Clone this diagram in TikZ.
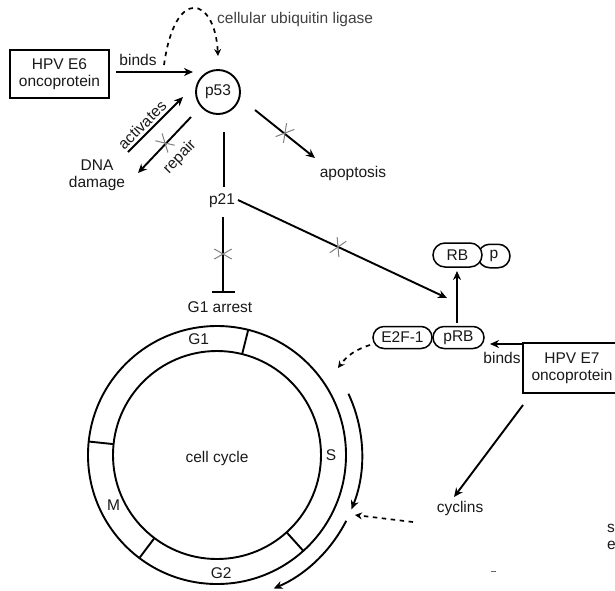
\documentclass[tikz,border=0pt]{standalone}
\usepackage{fontspec}
\setmainfont{Liberation Sans}
\usetikzlibrary{arrows.meta}
\newcommand\dfont{\fontsize{15.5}{17}\selectfont}
\begin{document}
\begin{tikzpicture}[x=1pt,y=-1pt,
  every node/.style={font=\dfont, inner sep=0pt, text=black!90},
  ln/.style={line width=1.9pt},
  arr/.style={ln, -{Stealth[length=9pt,width=8pt]}},
  dsh/.style={line width=1.7pt, dash pattern=on 4.5pt off 4.5pt, -{Stealth[length=7pt,width=7pt]}},
  xm/.style={line width=1pt, draw=black!50},
  pill/.style={draw, line width=1.5pt, rounded corners=11pt, minimum height=22pt, fill=white},
  box/.style={draw, line width=1.8pt, align=center, minimum width=99pt, minimum height=48pt}]
\useasboundingbox (0,0) rectangle (615,590);
\clip (0,0) rectangle (615,590);

% ---------- nodes ----------
\node[box] (e6) at (59.5,74) {HPV E6\\oncoprotein};
\node[circle, draw, line width=1.9pt, minimum size=44pt] (p53) at (218,92) {p53};
\node[anchor=west, text=black!75] (ubi) at (217,19) {cellular ubiquitin ligase};
\node (apop) at (353,173) {apoptosis};
\node[align=center] (dna) at (97,175) {DNA\\damage};
\node (p21) at (222,201) {p21};
\node (g1a) at (220,307) {G1 arrest};
\node[pill, minimum width=32pt, minimum height=23.5pt, rounded corners=11.75pt] (p) at (494,256) {p};
\node[pill, minimum width=49pt, minimum height=24pt, rounded corners=12pt] (rb) at (457.5,255) {RB};
\node[pill, minimum width=59pt] (e2f) at (402.5,337.5) {E2F-1};
\node[pill, minimum width=51pt] (prb) at (458.5,337.5) {pRB};
\node[box, minimum width=98pt, minimum height=50pt] (e7) at (572,368) {HPV E7\\oncoprotein};
\node (cyc) at (460,508) {cyclins};

% ---------- cell cycle ----------
\coordinate (cc) at (217,455);
\node (cclabel) at (217,458) {cell cycle};
\draw[ln] (cc) circle[radius=129pt];
\draw[ln] (cc) circle[radius=104pt];
\foreach \a in {76,174,233,312} \draw[ln] (cc) ++(\a:104pt) -- ++(\a:25pt);
\path (cc) ++(99:117pt) node (lg1) {G1};
\path (cc) ++(0:114pt) node (ls) {S};
\path (cc) ++(206:115pt) node (lm) {M};
\path (cc) ++(272:118pt) node (lg2) {G2};
\draw[arr] (cc) ++(25:145pt) arc[start angle=25, end angle=-22, radius=145pt];
\draw[arr] (cc) ++(-27:145pt) arc[start angle=-27, end angle=-67, radius=145pt];

% ---------- coordinates for connector ends ----------
\coordinate (bindsS) at (116,72);
\coordinate (bindsE) at (193,72);
\coordinate (u0) at (164,65);
\coordinate (u1) at (218,56);
\coordinate (apS) at (255,110);
\coordinate (apE) at (315,158);
\coordinate (actS) at (128,152);
\coordinate (actE) at (183,97);
\coordinate (repS) at (191,117);
\coordinate (repE) at (138,173);
\coordinate (p53b) at (224,132);
\coordinate (p21t) at (224,187);
\coordinate (p21b) at (223,217);
\coordinate (g1t) at (223,293);
\coordinate (p21r) at (238,200);
\coordinate (prbIn) at (447,298);
\coordinate (prbT) at (457,323);
\coordinate (rbB) at (457,271);
\coordinate (e7L) at (523,344);
\coordinate (prbR) at (490,344);
\coordinate (e2fL) at (370,345);
\coordinate (ccIn1) at (338,368);
\coordinate (e7B) at (523,405);
\coordinate (cycT) at (454,497);
\coordinate (cycL) at (413,522);
\coordinate (ccIn2) at (355,515);

% ---------- connectors ----------
\draw[arr] (bindsS) -- (bindsE);
\node (bindsa) at (138,60) {binds};
\draw[dsh] (u0) .. controls (175,-15) and (215,-3) .. (u1);
\draw[arr] (apS) -- (apE);
\draw[arr] (actS) -- (actE);
\node[rotate=45] (actl) at (142,125) {activates};
\draw[arr] (repS) -- (repE);
\node[rotate=46] (repl) at (180,157) {repair};
\draw[ln] (p53b) -- (p21t);
\draw[ln, -{Bar[width=23pt,line width=1.9pt]}] (p21b) -- (g1t);
\draw[arr] (p21r) -- (prbIn);
\draw[arr] (prbT) -- (rbB);
\draw[arr] (e7L) -- (prbR);
\node (bindsb) at (502,358) {binds};
\draw[dsh] (e2fL) to[bend right=18] (ccIn1);
\draw[arr] (e7B) -- (cycT);
\draw[dsh] (cycL) -- (ccIn2);

% ---------- crosses ----------
\foreach \x/\y/\t in {285/133/-39, 165/143/47, 223/254/90, 338/247/-25}{
  \draw[xm] (\x,\y) ++(\t+60:10pt) -- ++(\t+240:20pt);
  \draw[xm] (\x,\y) ++(\t-60:10pt) -- ++(\t+120:20pt);
}

% ---------- clipped fragments at the right edge ----------
\node[anchor=west] (frag1) at (607,528) {s};
\node[anchor=west] (frag2) at (607,545) {e};
\draw[line width=1pt, black!60] (491,571) -- (496,571);
\end{tikzpicture}
\end{document}
